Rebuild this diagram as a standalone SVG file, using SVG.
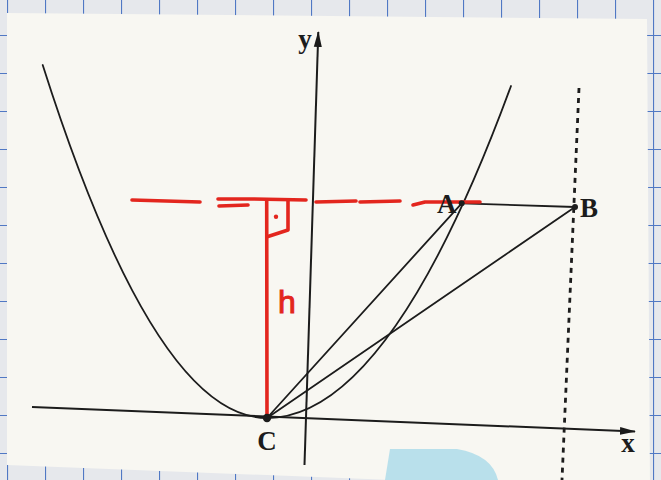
<svg xmlns="http://www.w3.org/2000/svg" width="661" height="480" viewBox="0 0 661 480">
  <defs>
    <pattern id="grid" x="7" y="-3" width="38" height="38" patternUnits="userSpaceOnUse">
      <rect width="38" height="38" fill="#e6e8ec"/>
      <path d="M0,0 L0,38 M0,0 L38,0" stroke="#5078c4" stroke-width="2.2" fill="none"/>
    </pattern>
    <marker id="arrow" viewBox="0 0 16 10" refX="15" refY="5" markerWidth="16" markerHeight="10" markerUnits="userSpaceOnUse" orient="auto">
      <path d="M0,1 L16,5 L0,9 Z" fill="#1a1a1a"/>
    </marker>
  </defs>
  <style>
    .ln { stroke: #1c1c1c; stroke-width: 1.8; fill: none; stroke-linecap: round; }
    .ax { stroke: #1c1c1c; stroke-width: 2; fill: none; }
    .red { stroke: #e3261e; stroke-width: 3.6; fill: none; stroke-linecap: round; stroke-linejoin: round; }
    .lbl { font-family: "Liberation Serif", "Times New Roman", serif; font-weight: bold; font-size: 27px; fill: #1c1c1c; }
  </style>

  <!-- background graph paper and white sheet -->
  <rect x="0" y="0" width="661" height="480" fill="url(#grid)"/>
  <path d="M7,13 L647,19 L650,490 L7,465 Z" fill="#f8f7f2"/>
  <path d="M390,449 L457,449 Q492,455 498,480 L385,480 Z" fill="#b9e0eb"/>

  <g id="connectors">
    <!-- axes -->
    <line id="x-axis" class="ax" x1="32" y1="407" x2="635" y2="431.5" marker-end="url(#arrow)"/>
    <line id="y-axis" class="ax" x1="304.5" y1="465" x2="318.3" y2="32" marker-end="url(#arrow)"/>
    <!-- dotted vertical line through B -->
    <line id="dotted" x1="579" y1="88" x2="562" y2="480" stroke="#1c1c1c" stroke-width="2.8" stroke-dasharray="5 5"/>
    <!-- parabola -->
    <path id="parabola" class="ln" d="M42.7,65 Q155,418 267,418 Q389,418 511,86"/>
    <!-- segments -->
    <line id="CA" class="ln" x1="267" y1="418" x2="461.7" y2="203.3"/>
    <line id="CB" class="ln" x1="267" y1="418" x2="575" y2="207"/>
    <line id="AB" class="ln" x1="461.7" y1="203.3" x2="575" y2="207"/>
  </g>

  <g id="height-construction">
    <path class="red" d="M132,200 L200,202"/>
    <path class="red" d="M218,199 L252,199 L306,200"/>
    <path class="red" d="M219,206 L248,205"/>
    <path class="red" d="M316,202 L356,201 M360,202 L400,201"/>
    <path class="red" d="M413,205 L425,202 L480,202"/>
    <path class="red" stroke-width="3" d="M266.7,200 L267,417"/>
    <path class="red" stroke-width="2.6" d="M288,201 L288,230 L268,236.5"/>
    <circle cx="276" cy="216.7" r="2.2" fill="#e3261e"/>
    <text x="278" y="313" font-family="'Liberation Sans', Arial, sans-serif" font-size="32" fill="#e3261e" stroke="#e3261e" stroke-width="1">h</text>
  </g>

  <g id="C">
    <circle cx="267" cy="418" r="4.2" fill="#1c1c1c"/>
    <text class="lbl" x="267" y="450" text-anchor="middle">C</text>
  </g>
  <g id="A">
    <circle cx="461.7" cy="203.3" r="3" fill="#1c1c1c"/>
    <text class="lbl" x="437" y="213">A</text>
  </g>
  <g id="B">
    <circle cx="575" cy="207" r="3" fill="#1c1c1c"/>
    <text class="lbl" x="580" y="217">B</text>
  </g>
  <g id="label-x">
    <text class="lbl" x="628" y="452" text-anchor="middle">x</text>
  </g>
  <g id="label-y">
    <text class="lbl" x="305" y="48" text-anchor="middle">y</text>
  </g>
</svg>
